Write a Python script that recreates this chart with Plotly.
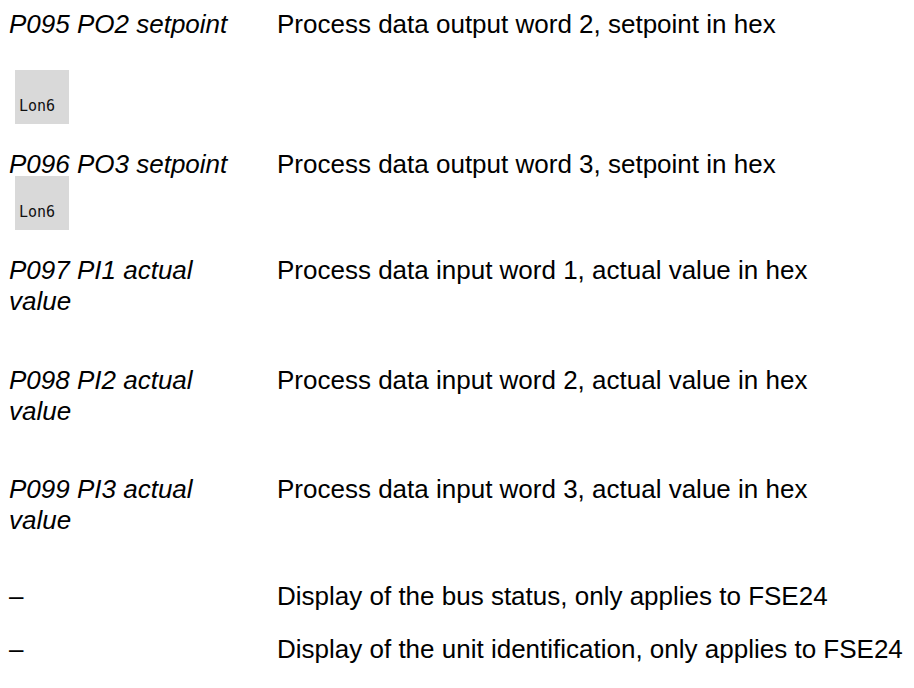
import plotly.graph_objects as go

# ---- content ----
labels = [
    "P095 PO2 setpoint",
    "P096 PO3 setpoint",
    "P097 PI1 actual\nvalue",
    "P098 PI2 actual\nvalue",
    "P099 PI3 actual\nvalue",
    "–",
    "–",
]
descriptions = [
    "Process data output word 2, setpoint in hex",
    "Process data output word 3, setpoint in hex",
    "Process data input word 1, actual value in hex",
    "Process data input word 2, actual value in hex",
    "Process data input word 3, actual value in hex",
    "Display of the bus status, only applies to FSE24",
    "Display of the unit identification, only applies to FSE24",
]
icons = ["Lon6", "Lon6", "", "", "", "", ""]

# ---- layout (pixel positions) ----
W, H = 914, 688
row_cap_center = [18, 158, 264, 374, 483, 590, 643]
icon_top = [62, 168, None, None, None, None, None]
label_x = 0
desc_x = 268
font_px = 26
cap_offset = 18          # distance from cap center to annotation top
line_gap = 31
icon_size = 54
FONT = "Liberation Sans, Arial, sans-serif"


def px(x):
    return x / W


def py(y):
    return 1 - y / H


fig = go.Figure()
annotations = []
shapes = []
for i, (lab, desc, ic) in enumerate(zip(labels, descriptions, icons)):
    yc = row_cap_center[i]
    for k, line in enumerate(lab.split("\n")):
        annotations.append(dict(
            x=px(label_x), y=py(yc - cap_offset + k * line_gap),
            xref="paper", yref="paper",
            xanchor="left", yanchor="top", align="left", showarrow=False,
            borderpad=0,
            text=("<i>" + line + "</i>") if line != "–" else line,
            font=dict(family=FONT, size=font_px, color="#000000"),
        ))
    annotations.append(dict(
        x=px(desc_x), y=py(yc - cap_offset), xref="paper", yref="paper",
        xanchor="left", yanchor="top", align="left", showarrow=False,
        borderpad=0, text=desc,
        font=dict(family=FONT, size=font_px, color="#000000"),
    ))
    if ic:
        top = icon_top[i]
        shapes.append(dict(
            type="rect", xref="paper", yref="paper",
            x0=px(7), x1=px(7 + icon_size), y0=py(top), y1=py(top + icon_size),
            fillcolor="#d9d9d9", line=dict(width=0), layer="below",
        ))
        annotations.append(dict(
            x=px(10), y=py(top + icon_size * 0.66), xref="paper", yref="paper",
            xanchor="left", yanchor="middle", showarrow=False, borderpad=0,
            text=ic,
            font=dict(family="DejaVu Sans Mono, monospace", size=15, color="#111111"),
        ))

fig.update_layout(
    width=W, height=H,
    margin=dict(l=0, r=0, t=0, b=0),
    paper_bgcolor="#ffffff", plot_bgcolor="#ffffff",
    xaxis=dict(range=[0, W], visible=False, fixedrange=True),
    yaxis=dict(range=[H, 0], visible=False, fixedrange=True),
    annotations=annotations, shapes=shapes, showlegend=False,
)
fig.write_html("out.html", config={"displayModeBar": False})
